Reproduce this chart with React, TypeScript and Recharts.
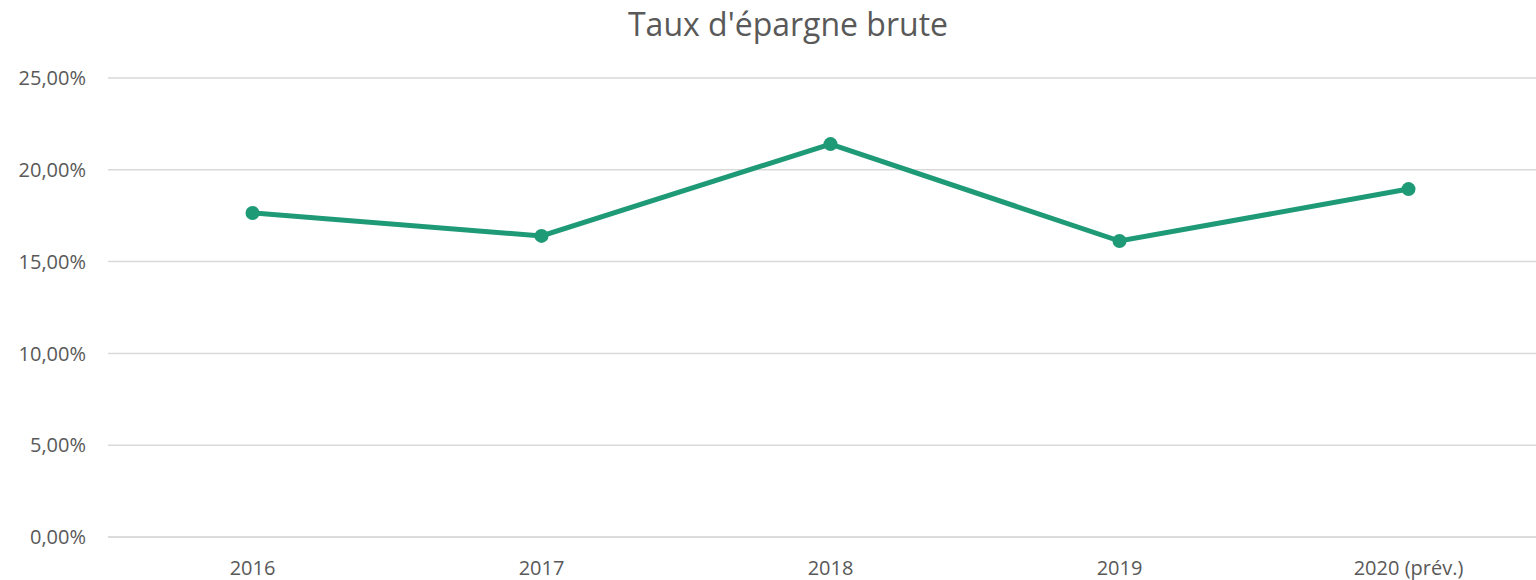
import { LineChart, Line, XAxis, YAxis, CartesianGrid } from 'recharts'

const years = ['2016', '2017', '2018', '2019', '2020 (prév.)']
const tauxEpargne = [0.1765, 0.1640, 0.2140, 0.1612, 0.1895]
const yTicks = [0, 0.05, 0.1, 0.15, 0.2, 0.25]

const chartData = years.map((year, i) => ({ year, taux: tauxEpargne[i] }))

const formatPct = (v: number) => (v * 100).toFixed(2).replace('.', ',') + '%'

export default function App() {
  return (
    <div
      style={{
        position: 'absolute',
        left: 0,
        top: 0,
        width: 1536,
        height: 580,
        overflow: 'hidden',
        background: '#fff',
        fontFamily: '"Open Sans", sans-serif',
      }}
    >
      <div
        style={{
          position: 'absolute',
          top: 2,
          left: 0,
          width: 1576,
          textAlign: 'center',
          fontSize: 32,
          color: '#595959',
        }}
      >
        Taux d'épargne brute
      </div>
      <LineChart
        width={1560}
        height={580}
        data={chartData}
        margin={{ top: 78, right: 7, left: 0, bottom: 0 }}
      >
        <CartesianGrid vertical={false} stroke="#d9d9d9" strokeWidth={1.5} />
        <XAxis
          dataKey="year"
          height={43}
          padding={{ left: 144.5, right: 144.5 }}
          axisLine={{ stroke: '#d9d9d9', strokeWidth: 1.5 }}
          tickLine={false}
          tickSize={0}
          tickMargin={24}
          tick={{ fill: '#595959', fontSize: 20 }}
        />
        <YAxis
          width={108}
          domain={[0, 0.25]}
          ticks={yTicks}
          tickFormatter={formatPct}
          axisLine={false}
          tickLine={false}
          tickSize={0}
          tickMargin={22}
          tick={{ fill: '#595959', fontSize: 20 }}
        />
        <Line
          dataKey="taux"
          stroke="#1f9a77"
          strokeWidth={5}
          dot={{ r: 7, fill: '#1f9a77', stroke: '#1f9a77', strokeWidth: 0 }}
          isAnimationActive={false}
        />
      </LineChart>
    </div>
  )
}
